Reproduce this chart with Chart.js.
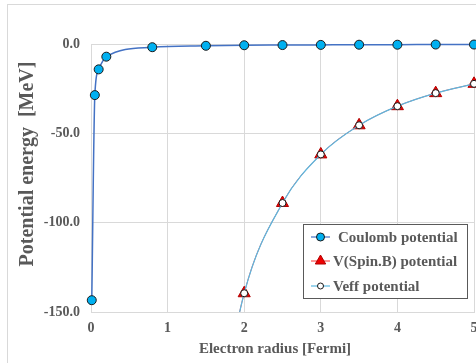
<!DOCTYPE html>
<html>
<head>
<meta charset="utf-8">
<script src="https://cdn.jsdelivr.net/npm/chart.js@4.4.1/dist/chart.umd.min.js"></script>
<style>
  body { margin: 0; background: #fff; }
  #frame { position: absolute; left: 7px; top: 4px; width: 520px; height: 420px;
           border-left: 1px solid #d9d9d9; border-top: 1px solid #d9d9d9; }
  #wrap { position: absolute; left: 0; top: 0; width: 476px; height: 363px; }
</style>
</head>
<body>
<div id="frame"></div>
<div id="wrap"><canvas id="potChart" width="476" height="363"></canvas></div>
<script>
// values
const coulombR = [0.01, 0.05, 0.1, 0.2, 0.8, 1.5, 2, 2.5, 3, 3.5, 4, 4.5, 5];
const coulombV = [-143.4, -28.6, -14.2, -7.1, -1.8, -1.0, -0.7, -0.6, -0.5, -0.4, -0.4, -0.3, -0.3];
const spinR = [1.5, 2, 2.5, 3, 3.5, 4, 4.5, 5];
const spinV = [-250, -139.5, -89.0, -61.8, -45.5, -34.8, -27.5, -22.3];
const veffR = [1.5, 2, 2.5, 3, 3.5, 4, 4.5, 5];
const veffV = [-250, -139.5, -89.0, -61.8, -45.5, -34.8, -27.5, -22.3];
const xTicks = [0, 1, 2, 3, 4, 5];
const yTicks = [-150, -100, -50, 0];

const serif = "'Liberation Serif', 'Times New Roman', serif";
const grey = '#595959';

function toPoints(xs, ys) {
    return xs.map((x, i) => ({ x: x, y: ys[i] }));
}

// Function to draw the axis titles and the boxed legend inside the plot
const decorations = {
    id: 'decorations',
    afterDraw(chart) {
        const ctx = chart.ctx;
        ctx.save();
        ctx.fillStyle = grey;
        ctx.textAlign = 'center';
        ctx.textBaseline = 'middle';

        // y title
        ctx.font = 'bold 20px ' + serif;
        ctx.save();
        ctx.translate(28, 164);
        ctx.rotate(-Math.PI / 2);
        ctx.fillText('Potential energy  [MeV]', 0, 0);
        ctx.restore();

        // x title
        ctx.font = 'bold 15px ' + serif;
        ctx.fillText('Electron radius [Fermi]', 275, 349);

        // legend box
        const bx = 303.5, by = 224.5, bw = 164, bh = 74;
        ctx.fillStyle = '#fff';
        ctx.fillRect(bx, by, bw, bh);
        ctx.strokeStyle = '#595959';
        ctx.lineWidth = 1;
        ctx.strokeRect(bx, by, bw, bh);

        const rows = [237, 261, 286];
        chart.data.datasets.forEach((ds, i) => {
            const y = rows[i];
            ctx.strokeStyle = ds.borderColor;
            ctx.lineWidth = 1.2;
            ctx.beginPath();
            ctx.moveTo(311, y);
            ctx.lineTo(330, y);
            ctx.stroke();
            ctx.fillStyle = ds.pointBackgroundColor;
            ctx.strokeStyle = ds.pointBorderColor;
            ctx.lineWidth = ds.pointBorderWidth;
            Chart.helpers.drawPoint(ctx, {
                pointStyle: ds.pointStyle,
                radius: ds.legendRadius,
                borderWidth: ds.pointBorderWidth,
                rotation: 0
            }, 320.5, y);
            ctx.fillStyle = grey;
            ctx.font = 'bold 15px ' + serif;
            ctx.textAlign = 'left';
            ctx.fillText(ds.label, i === 0 ? 338 : 333, y + 1);
        });
        ctx.restore();
    }
};

const lineClip = { left: 10, top: 10, right: 10, bottom: 0 };

new Chart(document.getElementById('potChart').getContext('2d'), {
    type: 'line',
    data: {
        datasets: [{
            label: 'Coulomb potential',
            data: toPoints(coulombR, coulombV),
            borderColor: '#4472c4',
            borderWidth: 1.5,
            pointStyle: 'circle',
            pointRadius: 4.5,
            legendRadius: 4,
            pointBackgroundColor: '#00b0f0',
            pointBorderColor: '#1a1a1a',
            pointBorderWidth: 1,
            cubicInterpolationMode: 'monotone',
            clip: lineClip,
            order: 3
        }, {
            label: 'V(Spin.B) potential',
            data: toPoints(spinR, spinV),
            borderColor: '#ff5050',
            borderWidth: 1,
            pointStyle: 'triangle',
            pointRadius: 7,
            legendRadius: 6,
            pointBackgroundColor: '#ee0000',
            pointBorderColor: '#b00000',
            pointBorderWidth: 1,
            cubicInterpolationMode: 'monotone',
            clip: lineClip,
            order: 2
        }, {
            label: 'Veff potential',
            data: toPoints(veffR, veffV),
            borderColor: '#5bb8e0',
            borderWidth: 1.2,
            pointStyle: 'circle',
            pointRadius: 3.5,
            legendRadius: 3,
            pointBackgroundColor: '#ffffff',
            pointBorderColor: '#1a1a1a',
            pointBorderWidth: 1,
            cubicInterpolationMode: 'monotone',
            clip: lineClip,
            order: 1
        }]
    },
    options: {
        responsive: false,
        animation: false,
        layout: { autoPadding: false, padding: { left: 0, top: 44, right: 2, bottom: 0 } },
        plugins: {
            legend: { display: false },
            tooltip: { enabled: false }
        },
        scales: {
            x: {
                type: 'linear',
                min: 0,
                max: 5,
                afterBuildTicks: scale => { scale.ticks = xTicks.map(v => ({ value: v })); },
                afterFit: scale => {
                    scale.height = 51;
                    scale.paddingLeft = 0;
                    scale.paddingRight = 0;
                },
                ticks: {
                    color: grey,
                    padding: 8,
                    font: { family: serif, size: 14, weight: 'bold' }
                },
                grid: { color: '#d9d9d9', drawTicks: false },
                border: { color: '#d9d9d9' }
            },
            y: {
                min: -150,
                max: 0,
                afterBuildTicks: scale => { scale.ticks = yTicks.map(v => ({ value: v })); },
                afterFit: scale => {
                    scale.width = 91;
                    scale.paddingTop = 0;
                    scale.paddingBottom = 0;
                },
                ticks: {
                    color: grey,
                    padding: 11,
                    font: { family: serif, size: 14, weight: 'bold' },
                    callback: v => v.toFixed(1)
                },
                grid: { color: '#d9d9d9', drawTicks: false },
                border: { color: '#d9d9d9' }
            }
        }
    },
    plugins: [decorations]
});
</script>
</body>
</html>
